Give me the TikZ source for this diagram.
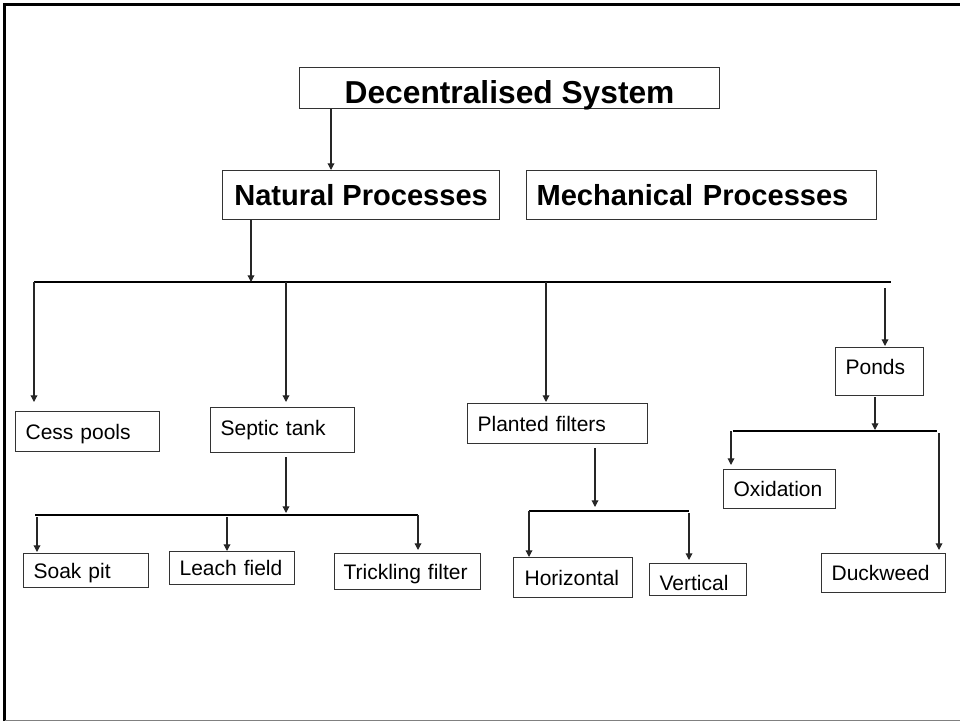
\documentclass[tikz,border=0pt]{standalone}
\usepackage{fontspec}
\setmainfont{Liberation Sans}
\usetikzlibrary{arrows.meta}
\begin{document}
\begin{tikzpicture}[x=0.75pt,y=-0.75pt,
  arr/.style={line width=0.9pt, draw=black!85, -{Triangle[length=5pt,width=5pt]}},
  busA/.style={line width=2pt, draw=black},
  busB/.style={line width=1.5pt, draw=black},
  bx/.style={draw=black!80, line width=0.9pt, anchor=north west, inner ysep=0pt,
    inner xsep=7.5pt, font=\fontsize{15.75pt}{18pt}\selectfont, align=left,
    text height=11.3pt, text depth=0pt},
  bigbx/.style={draw=black!80, line width=0.9pt, anchor=north west, inner sep=0pt,
    align=center, text depth=0pt},
]
\useasboundingbox (0,0) rectangle (960,721);
% frame
\draw[line width=2.25pt] (4.5,721) -- (4.5,4.5) -- (960,4.5);
\draw[gray, line width=0.75pt] (4.5,720) -- (960,720);

% boxes
\node[bigbx, minimum width=315pt, minimum height=30.75pt, text height=23.75pt,
  font=\fontsize{23.8pt}{26pt}\selectfont\bfseries] (dec) at (299,67) {Decentralised System};
\node[bigbx, minimum width=207.75pt, minimum height=36.75pt, text height=15.6pt,
  font=\fontsize{21.8pt}{24pt}\selectfont\bfseries] (nat) at (222,170) {Natural Processes};
\node[bx, minimum height=36.75pt, text width=247.5pt, text height=15.6pt,
  font=\fontsize{21.8pt}{24pt}\selectfont\bfseries] (mech) at (526,170) {Mechanical Processes};

\node[bx, minimum height=30pt, text width=93pt] (cess) at (15,411) {Cess pools};
\node[bx, minimum height=33.75pt, text width=93pt, text depth=3.75pt] (septic) at (210,407) {Septic tank};
\node[bx, minimum height=30pt, text width=120pt] (planted) at (467,403) {Planted filters};
\node[bx, minimum height=36pt, text width=51pt, text depth=7.5pt] (ponds) at (835,347) {Ponds};

\node[bx, minimum height=25.5pt, text width=78.75pt] (soak) at (23,553) {Soak pit};
\node[bx, minimum height=24.75pt, text width=78.75pt] (leach) at (169,551) {Leach field};
\node[bx, minimum height=27pt, text width=96pt, inner xsep=6.75pt] (trick) at (334,553) {Trickling filter};

\node[bx, minimum height=30pt, text width=72.75pt, inner xsep=8.25pt] (horiz) at (513,557) {Horizontal};
\node[bx, minimum height=24pt, text width=57.75pt, text height=15.8pt] (vert) at (649,563) {Vertical};

\node[bx, minimum height=29.25pt, text width=69pt] (oxid) at (723,469) {Oxidation};
\node[bx, minimum height=29.25pt, text width=78pt] (duck) at (821,553) {Duckweed};

% guides
\coordinate (g1) at (331,0);
\coordinate (g2) at (251,0);
\coordinate (g3) at (286,0);
\coordinate (g4) at (595,0);
\coordinate (g5) at (875,0);

% top connectors
\draw[arr] (g1 |- dec.south) -- (g1 |- nat.north);

\coordinate (b1w) at (34,282);
\coordinate (b1e) at (891,282);
\draw[busA] (b1w) -- (b1e);
\draw[arr] (g2 |- nat.south) -- (g2 |- b1w);

\coordinate (d1) at (34,282);
\coordinate (d2) at (286,282);
\coordinate (d3) at (546,282);
\coordinate (d4) at (885,288);
\draw[arr, shorten >=6.75pt] (d1) -- (d1 |- cess.north);
\draw[arr, shorten >=3.75pt] (d2) -- (d2 |- septic.north);
\draw[arr, shorten >=0.75pt] (d3) -- (d3 |- planted.north);
\draw[arr, shorten >=0.75pt] (d4) -- (d4 |- ponds.north);

% septic tank branch
\coordinate (b2w) at (35,515);
\coordinate (b2e) at (418,515);
\draw[busB] (b2w) -- (b2e);
\draw[arr, shorten <=3pt, shorten >=1.5pt] (g3 |- septic.south) -- (g3 |- b2w);
\coordinate (e1) at (37,517);
\coordinate (e2) at (227,517);
\coordinate (e3) at (418,515);
\draw[arr, shorten >=0.75pt] (e1) -- (e1 |- soak.north);
\draw[arr] (e2) -- (e2 |- leach.north);
\draw[arr, shorten >=2.25pt] (e3) -- (e3 |- trick.north);

% planted filters branch
\coordinate (b3w) at (529,511);
\coordinate (b3e) at (689,511);
\draw[busB] (b3w) -- (b3e);
\draw[arr, shorten <=3pt, shorten >=3pt] (g4 |- planted.south) -- (g4 |- b3w);
\coordinate (f1) at (529,511);
\coordinate (f2) at (689,513);
\draw[arr] (f1) -- (f1 |- horiz.north);
\draw[arr, shorten >=2.25pt] (f2) -- (f2 |- vert.north);

% ponds branch
\coordinate (b4w) at (733,431);
\coordinate (b4e) at (937,431);
\draw[busB] (b4w) -- (b4e);
\draw[arr, shorten <=0.75pt, shorten >=0.75pt] (g5 |- ponds.south) -- (g5 |- b4w);
\coordinate (h1) at (731,431);
\coordinate (h2) at (939,433);
\draw[arr, shorten >=3pt] (h1) -- (h1 |- oxid.north);
\draw[arr, shorten >=2.25pt] (h2) -- (h2 |- duck.north);
\end{tikzpicture}
\end{document}
